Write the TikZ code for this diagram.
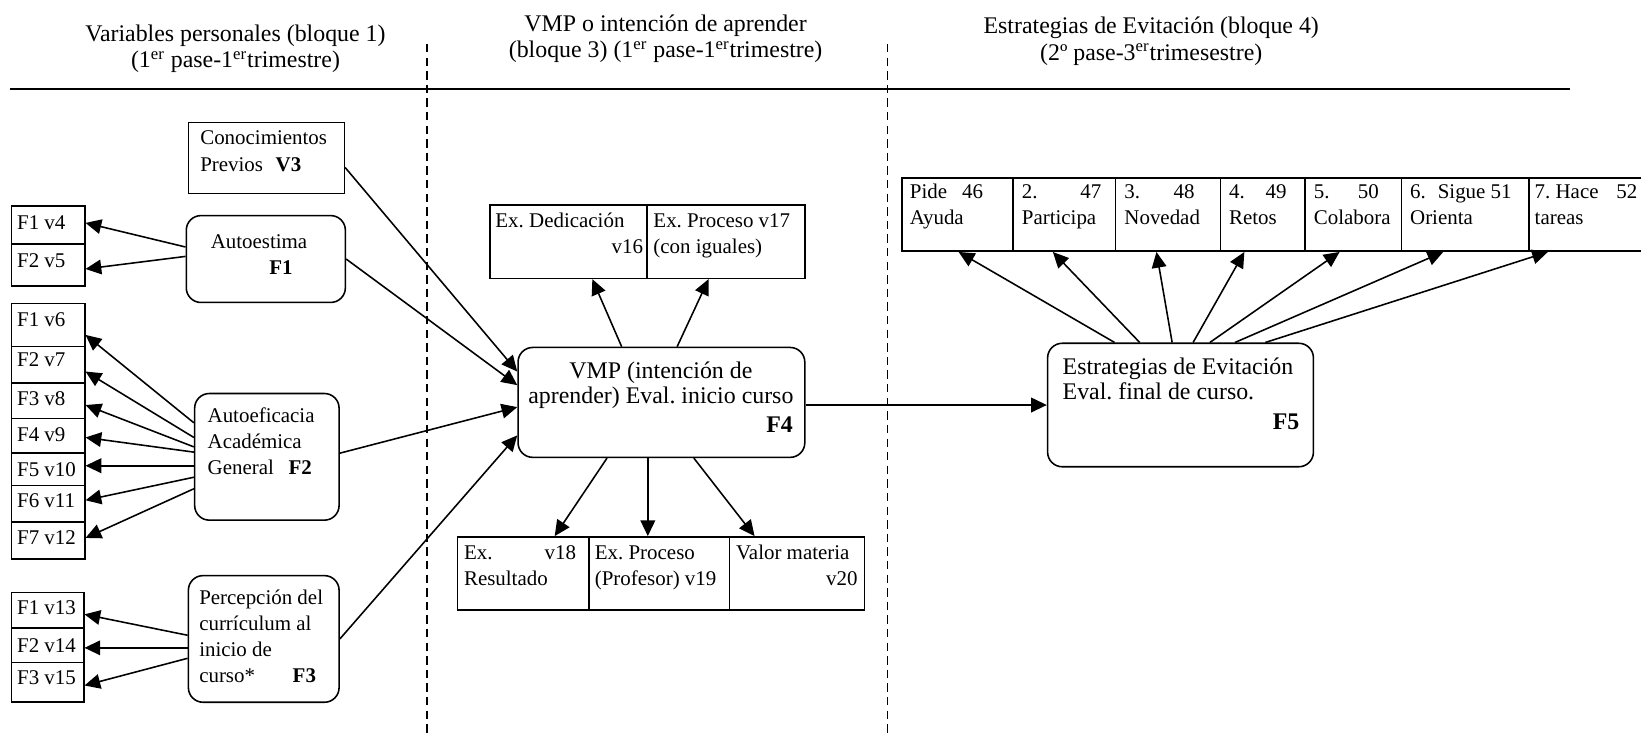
\documentclass[tikz,border=0pt]{standalone}
\usepackage{fontspec}
\setmainfont{Liberation Serif}
\usetikzlibrary{arrows.meta,fit,calc}
\frenchspacing

\begin{document}
\begin{tikzpicture}[x=0.5pt,y=-0.5pt,
  box/.style={draw, line width=0.75pt, inner sep=0pt, rectangle},
  rbox/.style={box, rounded corners=7pt},
  small/.style={font=\fontsize{10}{12.5}\selectfont},
  big/.style={font=\fontsize{11.4}{12}\selectfont},
  txt/.style={small, inner sep=0pt, anchor=north west, align=left},
  lbl/.style={small, inner sep=0pt, anchor=base west},
  head/.style={font=\fontsize{11.4}{12.5}\selectfont, inner sep=0pt, anchor=north, align=center},
  arr/.style={line width=0.75pt, -{Triangle[length=7.5pt,width=7pt]}},
  sep/.style={line width=0.6pt, dash pattern=on 4pt off 2.5pt},
]
\useasboundingbox (0,0) rectangle (1568,702);

% ---------- column headings and separators ----------
\node[head] (h1) at (225,21.5) {\strut Variables personales (bloque 1)\\(1\textsuperscript{er} pase-1\textsuperscript{er}trimestre)};
\node[head] (h2) at (636,12.5) {\strut VMP o intención de aprender\\(bloque 3) (1\textsuperscript{er} pase-1\textsuperscript{er}trimestre)};
\node[head] (h3) at (1100,14.5) {\strut Estrategias de Evitación (bloque 4)\\(2º pase-3\textsuperscript{er}trimesestre)};
\draw[line width=1pt] (10,85) -- (1500,85);
\draw[sep] (408,42) -- (408,702);
\draw[sep] (848,42) -- (848,702);

% ---------- bloque 1 ----------
\node[box, fit={(180,117) (329,185)}] (v3) {};
\node[txt] (tv3) at (191,120.5) {\strut Conocimientos\\Previos\hspace{6pt}\textbf{V3}};

\node[box, fit={(11,197) (81,233)}] (f1v4) {};
\node[box, fit={(11,233) (81,273)}] (f2v5) {};
\node[lbl] (tf1v4) at (16,219) {F1 v4};
\node[lbl] (tf2v5) at (16,256) {F2 v5};

\node[rbox, fit={(178,206) (330,289)}] (ae) {};
\node[txt] (tae) at (201,219.5) {\strut Autoestima\\\hspace*{28pt}\textbf{F1}};

\node[box, fit={(11,290) (81,331)}] (b6) {};
\node[box, fit={(11,331) (81,366)}] (b7) {};
\node[box, fit={(11,366) (81,400)}] (b8) {};
\node[box, fit={(11,400) (81,433)}] (b9) {};
\node[box, fit={(11,433) (81,464)}] (b10) {};
\node[box, fit={(11,464) (81,499)}] (b11) {};
\node[box, fit={(11,499) (81,534)}] (b12) {};
\node[lbl] (tb6) at (16,312) {F1 v6};
\node[lbl] (tb7) at (16,350) {F2 v7};
\node[lbl] (tb8) at (16,387) {F3 v8};
\node[lbl] (tb9) at (16,422) {F4 v9};
\node[lbl] (tb10) at (16,455) {F5 v10};
\node[lbl] (tb11) at (16,485) {F6 v11};
\node[lbl] (tb12) at (16,520) {F7 v12};

\node[rbox, fit={(186,376) (324,497)}] (aa) {};
\node[txt] (taa) at (198,385.5) {\strut Autoeficacia\\Académica\\General\hspace{7pt}\textbf{F2}};

\node[box, fit={(11,566) (80,600)}] (b13) {};
\node[box, fit={(11,600) (80,633)}] (b14) {};
\node[box, fit={(11,633) (80,671)}] (b15) {};
\node[lbl] (tb13) at (16,587) {F1 v13};
\node[lbl] (tb14) at (16,623) {F2 v14};
\node[lbl] (tb15) at (16,654) {F3 v15};

\node[rbox, fit={(180,550) (324,671)}] (pc) {};
\node[txt] (tpc) at (190,559.5) {\strut Percepción del\\currículum al\\inicio de\\curso*\hspace{18pt}\textbf{F3}};

% ---------- bloque 3 ----------
\node[box, fit={(468,196) (618,266)}] (exd) {};
\node[box, fit={(618,196) (769,266)}] (exp) {};
\node[txt] (texd) at (473,199.5) {\strut Ex. Dedicación\\\hbox to 70.5pt{\hfill v16}};
\node[txt] (texp) at (624,199.5) {\strut Ex. Proceso v17\\(con iguales)};

\node[rbox, fit={(495,332) (769,437)}] (vmp) {};
\node[big, inner sep=0pt, anchor=north, align=center] (tvmp) at (631.5,344.2)
  {\strut VMP (intención de\\aprender) Eval. inicio curso};
\node[big, inner sep=0pt, anchor=base east, font=\fontsize{11.4}{12}\selectfont\bfseries] (tf4) at (758,413) {F4};

\node[box, fit={(437,513) (563,583)}] (r18) {};
\node[box, fit={(563,513) (697,583)}] (r19) {};
\node[box, fit={(697,513) (826,583)}] (r20) {};
\node[txt] (tr18) at (443,516.5) {\strut\hbox to 53.5pt{Ex.\hfill v18}\\Resultado};
\node[txt] (tr19) at (568,516.5) {\strut Ex. Proceso\\(Profesor) v19};
\node[txt] (tr20) at (703,516.5) {\strut Valor materia\\\hbox to 58pt{\hfill v20}};

% ---------- bloque 4 ----------
\node[rbox, fit={(1001,328) (1255,446)}] (f5) {};
\node[big, inner sep=0pt, anchor=north west, align=left] (tf5) at (1015,340.2)
  {\strut Estrategias de Evitación\\Eval. final de curso.};
\node[big, inner sep=0pt, anchor=base east, font=\fontsize{11.4}{12}\selectfont\bfseries] (tf5b) at (1242,410) {F5};

\node[box, fit={(862,170) (968,240)}] (s1) {};
\node[box, fit={(968,170) (1066,240)}] (s2) {};
\node[box, fit={(1066,170) (1166,240)}] (s3) {};
\node[box, fit={(1166,170) (1247,240)}] (s4) {};
\node[box, fit={(1247,170) (1339,240)}] (s5) {};
\node[box, fit={(1339,170) (1461,240)}] (s6) {};
\node[box, fit={(1461,170) (1572,240)}] (s7) {};
\node[txt] (ts1) at (869,171.5) {\strut\hbox to 35pt{Pide\hfill 46}\\Ayuda};
\node[txt] (ts2) at (976,171.5) {\strut\hbox to 38pt{2.\hfill 47}\\Participa};
\node[txt] (ts3) at (1074,171.5) {\strut\hbox to 33.5pt{3.\hfill 48}\\Novedad};
\node[txt] (ts4) at (1174,171.5) {\strut\hbox to 27.5pt{4.\hfill 49}\\Retos};
\node[txt] (ts5) at (1255,171.5) {\strut\hbox to 31pt{5.\hfill 50}\\Colabora};
\node[txt] (ts6) at (1347,171.5) {\strut\hbox to 48.5pt{6.\hfill Sigue 51}\\Orienta};
\node[txt] (ts7) at (1466,171.5) {\strut\hbox to 49pt{7. Hace\hfill 52}\\tareas};

% ---------- connectors ----------
\draw[arr] ($(ae.west)+(0,-11.5)$) -- ($(f1v4.east)+(0,-2)$);
\draw[arr] ($(ae.west)+(0,-2.5)$) -- ($(f2v5.east)+(0,4)$);

\draw[arr] ($(aa.west)+(0,-32.5)$) -- ($(b6.east)+(0,9.5)$);
\draw[arr] ($(aa.west)+(0,-18.5)$) -- ($(b7.east)+(0,6.5)$);
\draw[arr] ($(aa.west)+(0,-9.5)$) -- ($(b8.east)+(0,4)$);
\draw[arr] ($(aa.west)+(0,-4.5)$) -- ($(b9.east)+(0,1.5)$);
\draw[arr] ($(aa.west)+(0,8.5)$) -- ($(b10.east)+(0,-3.5)$);
\draw[arr] ($(aa.west)+(0,19.5)$) -- ($(b11.east)+(0,-3.5)$);
\draw[arr] ($(aa.west)+(0,30.5)$) -- ($(b12.east)+(0,-2.5)$);

\draw[arr] ($(pc.west)+(0,-3.5)$) -- ($(b13.east)+(0,4)$);
\draw[arr] ($(pc.west)+(0,8.5)$) -- ($(b14.east)+(0,2.5)$);
\draw[arr] ($(pc.west)+(0,18.5)$) -- ($(b15.east)+(0,3)$);

\draw[arr] ($(v3.east)+(0,9)$) -- ($(vmp.west)+(0,-29.5)$);
\draw[arr] (ae.east) -- ($(vmp.west)+(0,-16.5)$);
\draw[arr] ($(aa.east)+(0,-3.5)$) -- ($(vmp.west)+(0,4.5)$);
\draw[arr] (pc.east) -- ($(vmp.west)+(0,31.5)$);

\draw[arr] ($(vmp.north)+(-38,0)$) -- ($(exd.south)+(23,0)$);
\draw[arr] ($(vmp.north)+(15,0)$) -- ($(exp.south)+(-16.5,0)$);

\draw[arr] ($(vmp.south)+(-52,0)$) -- ($(r18.north)+(30,0)$);
\draw[arr] ($(vmp.south)+(-13,0)$) -- ($(r19.north)+(-11,0)$);
\draw[arr] ($(vmp.south)+(31,0)$) -- ($(r20.north)+(-40.5,0)$);

\draw[arr] (vmp.east |- f5.west) -- (f5.west);

\draw[arr] ($(f5.north)+(-63,0)$) -- ($(s1.south)+(1,0)$);
\draw[arr] ($(f5.north)+(-39,0)$) -- ($(s2.south)+(-11,0)$);
\draw[arr] ($(f5.north)+(-8,0)$) -- ($(s3.south)+(-11,0)$);
\draw[arr] ($(f5.north)+(12,0)$) -- ($(s4.south)+(-17.5,0)$);
\draw[arr] ($(f5.north)+(28,0)$) -- ($(s5.south)+(-13,0)$);
\draw[arr] ($(f5.north)+(52,0)$) -- ($(s6.south)+(-21,0)$);
\draw[arr] ($(f5.north)+(81,0)$) -- ($(s7.south)+(-37.5,0)$);
\end{tikzpicture}
\end{document}
